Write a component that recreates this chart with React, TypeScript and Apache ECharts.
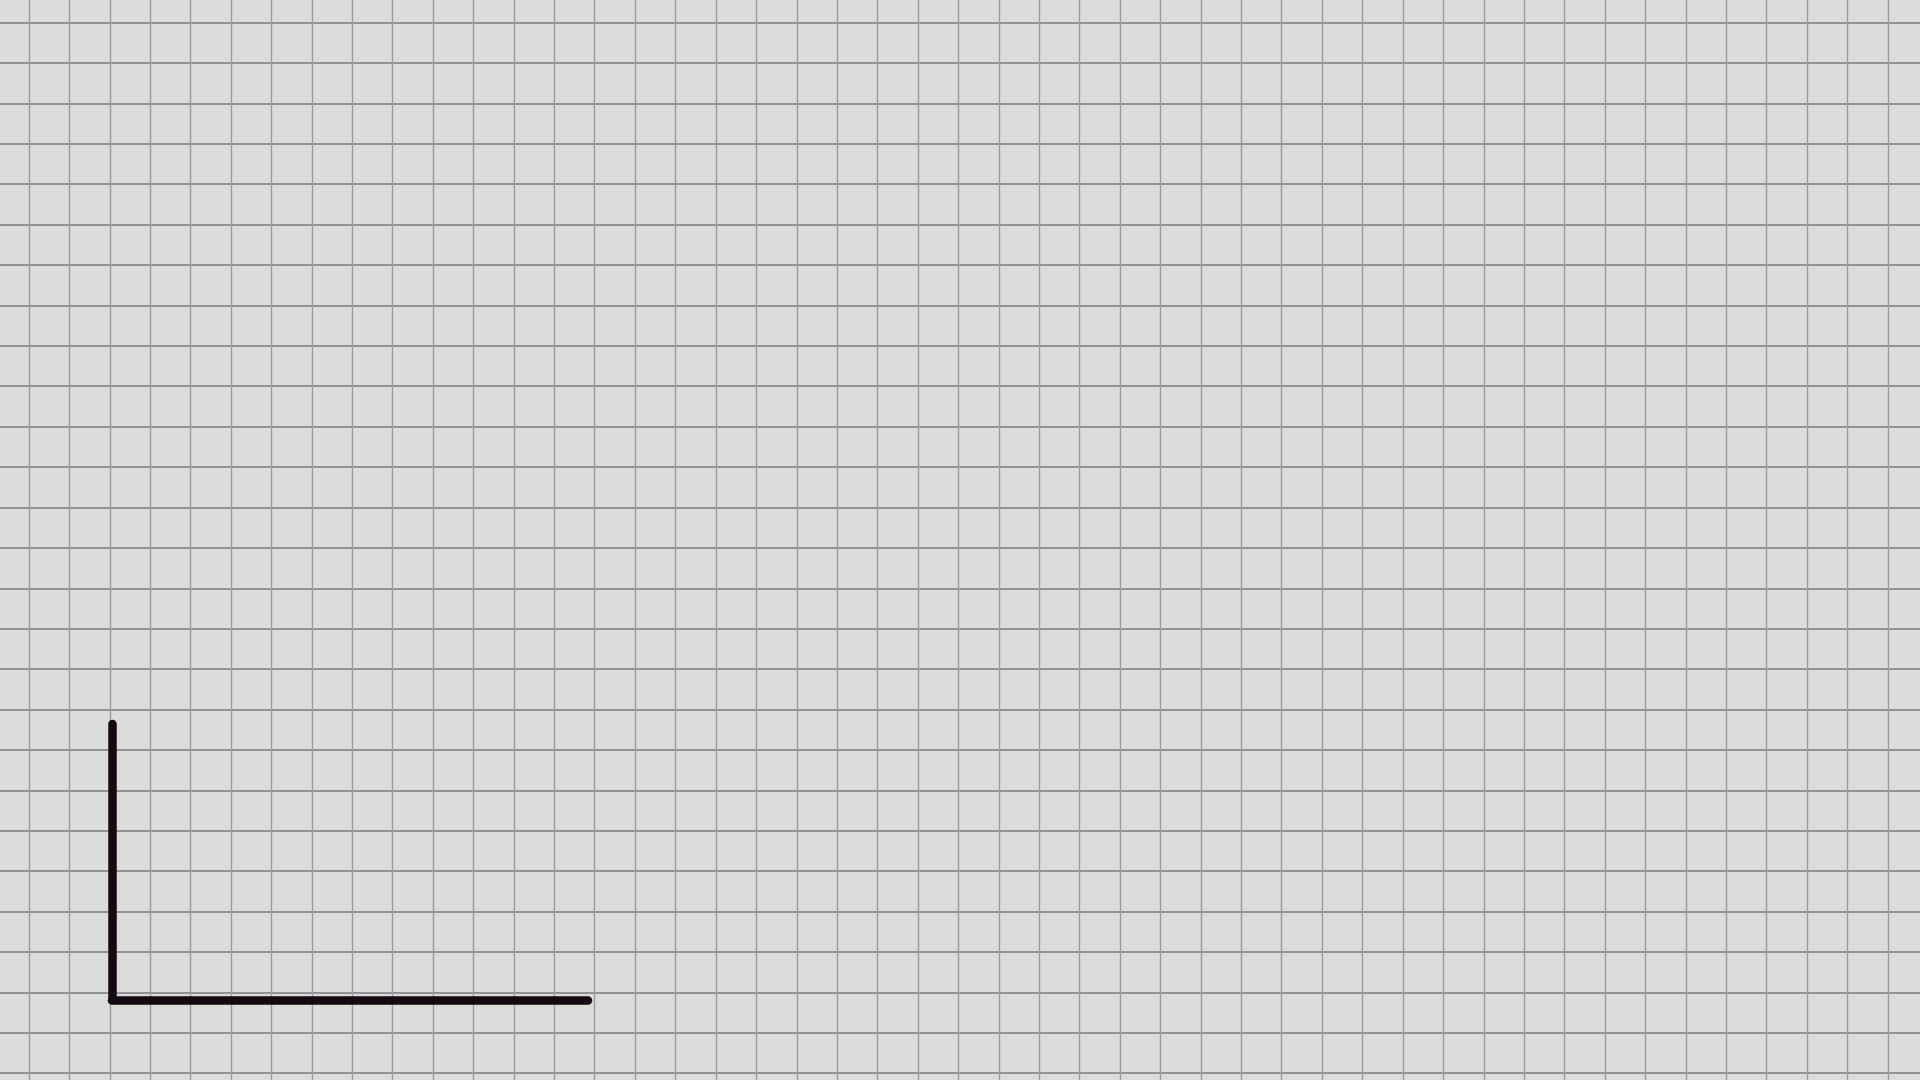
import React, { useEffect, useRef } from "react";
import * as echarts from "echarts";

// Graph-paper background: column and row extents (one unit per square)
const paperXRange = [0, 48];
const paperYRange = [0, 28];
// Empty chart frame (axes only, no data yet)
const frameXRange = [0, 10];
const frameYRange = [0, 10];
const frameData: number[][] = [];

export default function App() {
  const ref = useRef<HTMLDivElement>(null);
  useEffect(() => {
    document.body.style.margin = "0";
    const chart = echarts.init(ref.current!, undefined, { renderer: "svg" });
    chart.setOption({
      animation: false,
      backgroundColor: "#dcdcdb",
      grid: [
        {
          left: -11.41,
          top: -17.9,
          width: 1939.7,
          height: 1131.5,
          show: false,
          outerBoundsMode: "none",
          containLabel: false,
        },
        {
          left: 112,
          top: 724,
          width: 476,
          height: 276,
          show: false,
          outerBoundsMode: "none",
          containLabel: false,
        },
      ],
      xAxis: [
        {
          type: "value",
          gridIndex: 0,
          min: paperXRange[0],
          max: paperXRange[1],
          interval: 1,
          axisLine: { show: false },
          axisTick: { show: false },
          axisLabel: { show: false },
          splitLine: { show: true, lineStyle: { color: "#9a9aa2", width: 1.4 } },
        },
        {
          type: "value",
          gridIndex: 1,
          min: frameXRange[0],
          max: frameXRange[1],
          axisLine: {
            show: true,
            onZero: false,
            lineStyle: { color: "#140a12", width: 8.5, cap: "round" },
          },
          axisTick: { show: false },
          axisLabel: { show: false },
          splitLine: { show: false },
        },
      ],
      yAxis: [
        {
          type: "value",
          gridIndex: 0,
          min: paperYRange[0],
          max: paperYRange[1],
          interval: 1,
          axisLine: { show: false },
          axisTick: { show: false },
          axisLabel: { show: false },
          splitLine: { show: true, lineStyle: { color: "#7a7a7e", width: 1.6 } },
        },
        {
          type: "value",
          gridIndex: 1,
          min: frameYRange[0],
          max: frameYRange[1],
          axisLine: {
            show: true,
            onZero: false,
            lineStyle: { color: "#140a12", width: 8.5, cap: "round" },
          },
          axisTick: { show: false },
          axisLabel: { show: false },
          splitLine: { show: false },
        },
      ],
      series: [
        {
          type: "line",
          xAxisIndex: 1,
          yAxisIndex: 1,
          data: frameData,
        },
      ],
    });
    return () => chart.dispose();
  }, []);
  return (
    <div
      ref={ref}
      style={{ position: "fixed", left: 0, top: 0, width: 1920, height: 1080 }}
    />
  );
}
